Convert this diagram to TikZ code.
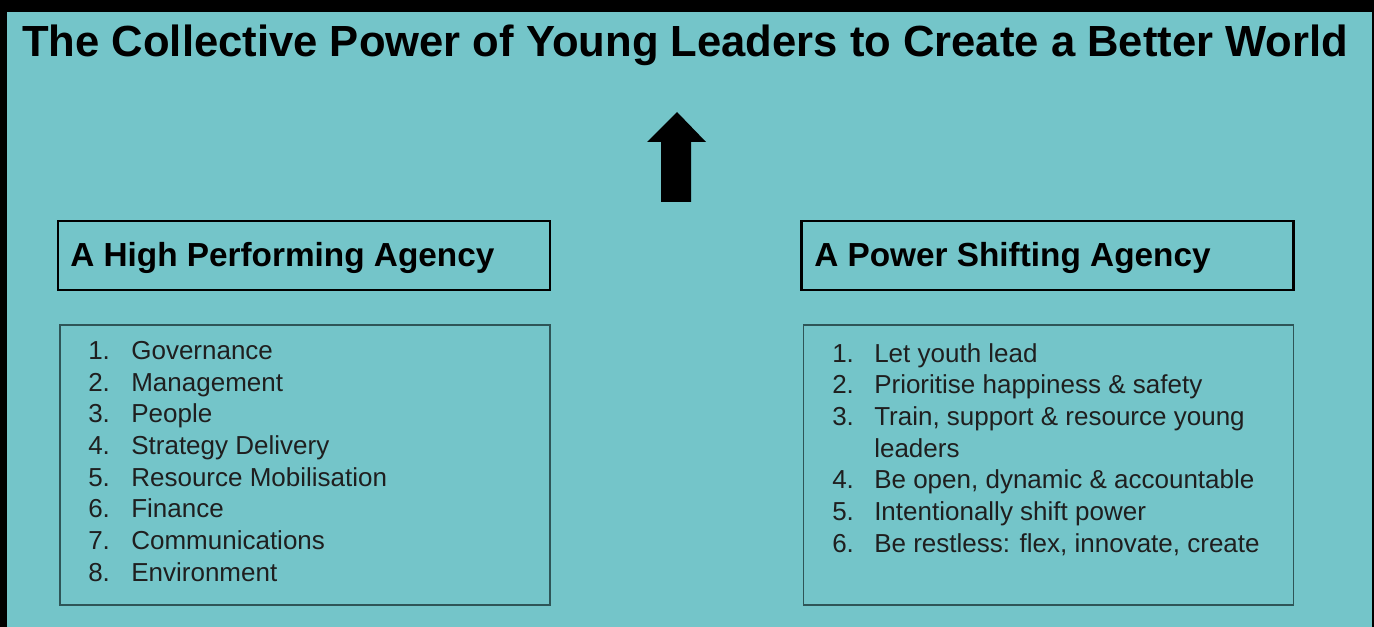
\documentclass[tikz,border=0pt]{standalone}
\usepackage{fontspec}
\setmainfont{Liberation Sans}
\definecolor{teal}{HTML}{74C5C9}
\definecolor{frameline}{HTML}{2E5557}
\begin{document}
\begin{tikzpicture}[x=0.75pt,y=-0.75pt,
  headbox/.style={draw=black,line width=1.6pt,minimum width=492*0.75pt,minimum height=69*0.75pt,inner sep=0pt},
  listbox/.style={draw=frameline,line width=1.1pt,minimum width=490*0.75pt,minimum height=280*0.75pt,inner sep=0pt},
  headtext/.style={anchor=base west,inner sep=0pt,font=\fontsize{25pt}{30pt}\selectfont\bfseries},
  listtext/.style={anchor=base west,inner sep=0pt,font=\fontsize{19.5pt}{23.8pt}\selectfont,text=black!88}]
% page and black frame
\fill[black] (0,0) rectangle (1374,627);
\fill[teal] (7,12) rectangle (1372,627);
\useasboundingbox (0,0) rectangle (1374,627);

% title
\node[anchor=base west,inner sep=0pt,font=\fontsize{32.7pt}{38pt}\selectfont\bfseries] (title) at (22,57)
  {The Collective Power of Young Leaders to Create a Better World};

% upward arrow
\fill[black] (661,202) -- (661,142) -- (647,142) -- (677,112) -- (706,142) -- (691,142) -- (691,202) -- cycle;

% headings
\node[headbox] (lefthead) at (304,255.5) {};
\node[headtext] (lefttitle) at (70,266.7) {A High Performing Agency};
\node[headbox] (righthead) at (1047.5,255.5) {};
\node[headtext] (righttitle) at (814,266.7) {A Power Shifting Agency};

% lists
\node[listbox] (leftlist) at (305,465) {};
\node[listtext] (leftitems) at (88,359.3) {%
  \begin{tabular}[t]{@{}p{32.3pt}@{}l@{}}
  1. & Governance\\
  2. & Management\\
  3. & People\\
  4. & Strategy Delivery\\
  5. & Resource Mobilisation\\
  6. & Finance\\
  7. & Communications\\
  8. & Environment
  \end{tabular}};
\node[listbox] (rightlist) at (1048.5,465) {};
\node[listtext] (rightitems) at (832,362) {%
  \begin{tabular}[t]{@{}p{31.5pt}@{}l@{}}
  1. & Let youth lead\\
  2. & Prioritise happiness \& safety\\
  3. & Train, support \& resource young\\
     & leaders\\
  4. & Be open, dynamic \& accountable\\
  5. & Intentionally shift power\\
  6. & Be restless: flex, innovate, create
  \end{tabular}};
\end{tikzpicture}
\end{document}
